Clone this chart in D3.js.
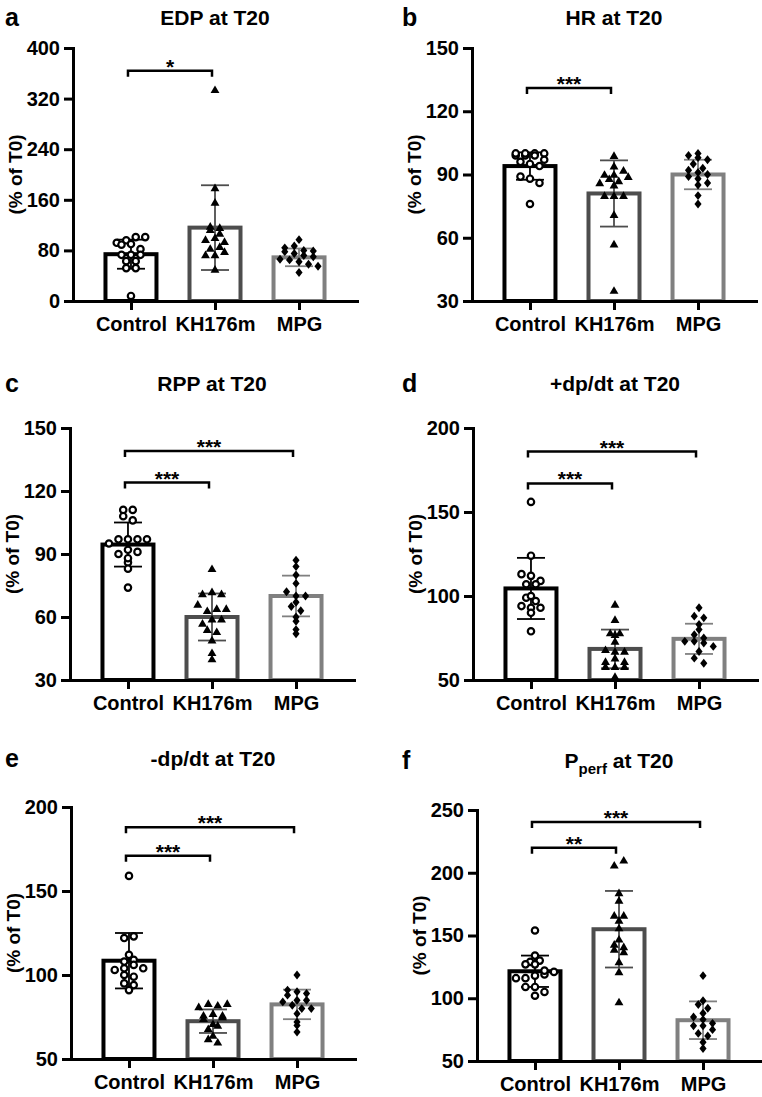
<!DOCTYPE html>
<html><head><meta charset="utf-8">
<script src="https://cdn.jsdelivr.net/npm/d3@7"></script>
<style>
body{margin:0;background:#fff}
svg{display:block}
text{font-family:Arial,"Liberation Sans",sans-serif;font-weight:bold;fill:#000}
</style>
</head><body>
<svg id="chart" width="762" height="1097"></svg>
<script>
// ---------------- data ----------------
const groups = ["Control", "KH176m", "MPG"];

const edpControl = [92, 96, 89, 101, 101, 90, 73, 82, 73, 73, 63, 63, 52, 52, 8];
const edpKH = [118, 97, 83, 113, 100, 86, 73, 179, 156, 50, 116, 94, 73, 107, 78, 334];
const edpMPG = [97, 84, 87, 80, 79, 78, 75, 72, 70, 66, 65, 62, 58, 55, 45];
const edpMeans = [74, 116, 69];
const edpSD = [23, 67, 14];
const edpTicks = [0, 80, 160, 240, 320, 400];

const hrControl = [99, 99, 100, 100, 100, 99, 100, 97, 96, 95, 94, 89, 88, 86, 76];
const hrKH = [86, 88, 90, 90, 94, 92, 87, 89, 85, 99, 80, 80, 80, 71, 57, 35];
const hrMPG = [100, 99, 98, 97, 95, 93, 92, 91, 90, 89, 88, 86, 85, 80, 76];
const hrMeans = [94, 81, 90];
const hrSD = [6.5, 15.7, 7];
const hrTicks = [30, 60, 90, 120, 150];

const rppControl = [111, 108, 111, 106, 95, 97, 97, 97, 97, 90, 92, 86, 88, 83, 91, 74];
const rppKH = [83, 71, 72, 71, 66, 63, 57, 64, 64, 59, 59, 54, 53, 49, 40, 43];
const rppMPG = [87, 84, 80, 76, 72, 70, 70, 67, 65, 63, 60, 58, 54, 52];
const rppMeans = [94.5, 60, 70];
const rppSD = [10.5, 11.2, 9.7];
const rppTicks = [30, 60, 90, 120, 150];

const dpPlusControl = [156, 124, 113, 112, 109, 107, 107, 99, 94, 97, 93, 100, 90, 93, 79];
const dpPlusKH = [95, 86, 78, 78, 77, 73, 68, 67, 67, 61, 63, 61, 58, 58, 58, 52];
const dpPlusMPG = [93, 88, 87, 83, 80, 77, 75, 73, 73, 72, 70, 67, 63, 60];
const dpPlusMeans = [104.5, 68.5, 74.5];
const dpPlusSD = [18.2, 11.5, 9];
const dpPlusTicks = [50, 100, 150, 200];

const dpMinusControl = [159, 122, 123, 112, 108, 109, 103, 104, 106, 104, 100, 99, 95, 94, 91];
const dpMinusKH = [76, 62, 81, 74, 68, 83, 77, 71, 64, 82, 76, 70, 83, 75, 60];
const dpMinusMPG = [100, 91, 90, 89, 88, 85, 85, 84, 82, 80, 80, 77, 72, 70, 66];
const dpMinusMeans = [108.5, 72.5, 82.5];
const dpMinusSD = [16.5, 7, 8.8];
const dpMinusTicks = [50, 100, 150, 200];

const pperfControl = [154, 134, 129, 127, 130, 127, 116, 116, 118, 119, 121, 109, 109, 105, 102, 122];
const pperfKH = [206, 210, 184, 178, 166, 162, 166, 156, 143, 147, 141, 129, 139, 137, 121, 97];
const pperfMPG = [118, 98, 95, 92, 88, 85, 83, 80, 78, 78, 75, 72, 70, 65, 60];
const pperfMeans = [121.5, 155, 82.5];
const pperfSD = [12.5, 30.5, 15];
const pperfTicks = [50, 100, 150, 200, 250];

// significance: [fromGroup, toGroup, bracket value, label]
const edpSig = [[0, 1, 364, "*"]];
const hrSig = [[0, 1, 131, "***"]];
const rppSig = [[0, 1, 124, "***"], [0, 2, 139, "***"]];
const dpPlusSig = [[0, 1, 167, "***"], [0, 2, 186, "***"]];
const dpMinusSig = [[0, 1, 171, "***"], [0, 2, 188, "***"]];
const pperfSig = [[0, 1, 220, "**"], [0, 2, 240.5, "***"]];

// ---------------- layout / style ----------------
const panels = [
  {letter: "a", title: ["EDP at T20"], series: [edpControl, edpKH, edpMPG], means: edpMeans, sd: edpSD, ticks: edpTicks, sig: edpSig,
   axisX: 73, yTop: 48, yBot: 301, letterX: 5, titleY: 25},
  {letter: "b", title: ["HR at T20"], series: [hrControl, hrKH, hrMPG], means: hrMeans, sd: hrSD, ticks: hrTicks, sig: hrSig,
   axisX: 472, yTop: 48, yBot: 301, letterX: 402, titleY: 25},
  {letter: "c", title: ["RPP at T20"], series: [rppControl, rppKH, rppMPG], means: rppMeans, sd: rppSD, ticks: rppTicks, sig: rppSig,
   axisX: 70, yTop: 428, yBot: 680, letterX: 5, titleY: 391},
  {letter: "d", title: ["+dp/dt at T20"], series: [dpPlusControl, dpPlusKH, dpPlusMPG], means: dpPlusMeans, sd: dpPlusSD, ticks: dpPlusTicks, sig: dpPlusSig,
   axisX: 473, yTop: 428, yBot: 680, letterX: 402, titleY: 391},
  {letter: "e", title: ["-dp/dt at T20"], series: [dpMinusControl, dpMinusKH, dpMinusMPG], means: dpMinusMeans, sd: dpMinusSD, ticks: dpMinusTicks, sig: dpMinusSig,
   axisX: 71, yTop: 807, yBot: 1059, letterX: 5, titleY: 766},
  {letter: "f", title: ["P", "perf", " at T20"], series: [pperfControl, pperfKH, pperfMPG], means: pperfMeans, sd: pperfSD, ticks: pperfTicks, sig: pperfSig,
   axisX: 477, yTop: 810, yBot: 1061, letterX: 402, titleY: 768}
];

const barColors = ["#000000", "#4d4d4d", "#808080"];
const FONT = 'Arial, "Liberation Sans", sans-serif';
const plotW = 284;

const diamond = {
  draw(ctx, size) {
    const h = Math.sqrt(size) * 0.95, w = h * 0.8;
    ctx.moveTo(0, -h); ctx.lineTo(w, 0); ctx.lineTo(0, h); ctx.lineTo(-w, 0); ctx.closePath();
  }
};

function arrange(ys, bin, spacing) {
  const offs = new Array(ys.length).fill(0);
  const bins = d3.group(d3.range(ys.length), i => Math.round(ys[i] / bin));
  for (const [, items] of bins) {
    const n = items.length;
    items.forEach((i, k) => { offs[i] = (k - (n - 1) / 2) * spacing; });
  }
  return offs;
}

const svg = d3.select("#chart");

panels.forEach(p => {
  const g = svg.append("g");
  const y = d3.scaleLinear().domain([p.ticks[0], p.ticks[p.ticks.length - 1]]).range([p.yBot, p.yTop]);
  const x = d3.scalePoint().domain(groups).range([p.axisX, p.axisX + plotW]).padding(0.69);

  // panel letter
  g.append("text").attr("x", p.letterX).attr("y", p.titleY + 1).attr("font-size", 25).text(p.letter);

  // title
  const t = g.append("text").attr("x", x(groups[1])).attr("y", p.titleY).attr("font-size", 21).attr("text-anchor", "middle");
  if (p.title.length === 1) t.text(p.title[0]);
  else {
    t.append("tspan").text(p.title[0]);
    t.append("tspan").attr("font-size", 15).attr("dy", 6).text(p.title[1]);
    t.append("tspan").attr("dy", -6).text(p.title[2]);
  }

  // y label
  g.append("text")
    .attr("transform", `translate(${p.axisX - 58},${(p.yTop + p.yBot) / 2}) rotate(-90)`)
    .attr("text-anchor", "middle").attr("dy", "0.35em").attr("font-size", 19)
    .text("(% of T0)");

  // bars
  g.selectAll("rect.bar").data(groups).join("rect")
    .attr("x", d => x(d) - 25.5).attr("width", 51)
    .attr("y", (d, i) => y(p.means[i])).attr("height", (d, i) => p.yBot - y(p.means[i]))
    .attr("fill", "#fff").attr("stroke", (d, i) => barColors[i]).attr("stroke-width", 4);

  // error bars
  groups.forEach((gr, i) => {
    const cx = x(gr), hi = y(p.means[i] + p.sd[i]), lo = y(p.means[i] - p.sd[i]);
    const eg = g.append("g").attr("stroke", barColors[i]).attr("stroke-width", 1.8);
    eg.append("line").attr("x1", cx).attr("x2", cx).attr("y1", hi).attr("y2", lo);
    eg.append("line").attr("x1", cx - 14).attr("x2", cx + 14).attr("y1", hi).attr("y2", hi);
    eg.append("line").attr("x1", cx - 14).attr("x2", cx + 14).attr("y1", lo).attr("y2", lo);
  });

  // points
  p.series.forEach((vals, i) => {
    const ys = vals.map(v => y(v));
    const offs = arrange(ys, 7.5, 9.5);
    const cx = x(groups[i]);
    if (i === 0) {
      g.selectAll(null).data(vals).join("circle")
        .attr("cx", (d, k) => cx + offs[k]).attr("cy", (d, k) => ys[k]).attr("r", 3.2)
        .attr("fill", "#fff").attr("stroke", "#000").attr("stroke-width", 2.2);
    } else {
      const sym = i === 1 ? d3.symbol(d3.symbolTriangle, 34) : d3.symbol(diamond, 22);
      g.selectAll(null).data(vals).join("path")
        .attr("transform", (d, k) => `translate(${cx + offs[k]},${ys[k] + (i === 1 ? 0.8 : 0)})`)
        .attr("d", sym).attr("fill", "#000");
    }
  });

  // axes
  const ya = d3.axisLeft(y).tickValues(p.ticks).tickSize(9).tickSizeOuter(0).tickPadding(4);
  const yg = g.append("g").attr("transform", `translate(${p.axisX},0)`).call(ya);
  const xa = d3.axisBottom(x).tickSize(9).tickSizeOuter(0).tickPadding(7);
  const xg = g.append("g").attr("transform", `translate(0,${p.yBot})`).call(xa);
  [yg, xg].forEach(a => {
    a.selectAll("path,line").attr("stroke", "#000").attr("stroke-width", 3).attr("stroke-linecap", "square");
    a.selectAll("text").attr("font-size", 20).attr("font-weight", "bold").attr("font-family", FONT).attr("fill", "#000");
  });
  xg.selectAll("line").attr("stroke-linecap", "butt");
  yg.selectAll(".tick line").attr("stroke-linecap", "butt");

  // significance brackets
  p.sig.forEach(([a, b, v, lab]) => {
    const x1 = x(groups[a]) - 3, x2 = x(groups[b]) - 3, by = y(v);
    g.append("path").attr("d", `M${x1},${by + 6}V${by}H${x2}V${by + 6}`)
      .attr("fill", "none").attr("stroke", "#000").attr("stroke-width", 2.5);
    g.append("text").attr("x", (x1 + x2) / 2).attr("y", by + 3).attr("text-anchor", "middle")
      .attr("font-size", 21).text(lab);
  });
});
</script>
</body></html>
